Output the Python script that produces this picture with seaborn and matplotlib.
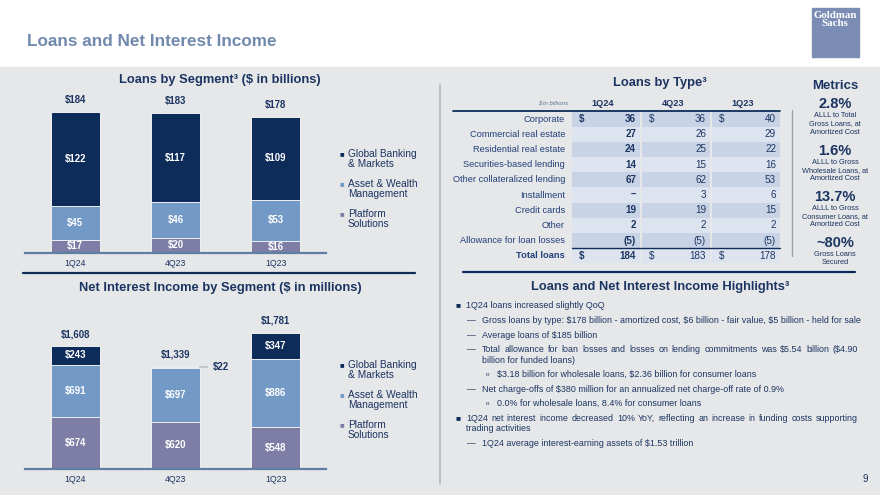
import pandas as pd
import matplotlib.pyplot as plt
import seaborn as sns
from matplotlib.patches import Rectangle

# ---- data ----
quarters = ["1Q24", "4Q23", "1Q23"]
segments = ["Global Banking\n& Markets", "Asset & Wealth\nManagement", "Platform\nSolutions"]
loans_gbm = [122, 117, 109]
loans_awm = [45, 46, 53]
loans_ps = [17, 20, 16]
nii_gbm = [243, 22, 347]
nii_awm = [691, 697, 886]
nii_ps = [674, 620, 548]

type_rows = ["Corporate", "Commercial real estate", "Residential real estate",
             "Securities-based lending", "Other collateralized lending", "Installment",
             "Credit cards", "Other", "Allowance for loan losses", "Total loans"]
type_1q24 = [36, 27, 24, 14, 67, None, 19, 2, -5, 184]
type_4q23 = [36, 26, 25, 15, 62, 3, 19, 2, -5, 183]
type_1q23 = [40, 29, 22, 16, 53, 6, 15, 2, -5, 178]

metric_values = ["2.8%", "1.6%", "13.7%", "~80%"]
metric_labels = ["ALLL to Total\nGross Loans, at\nAmortized Cost",
                 "ALLL to Gross\nWholesale Loans, at\nAmortized Cost",
                 "ALLL to Gross\nConsumer Loans, at\nAmortized Cost",
                 "Gross Loans\nSecured"]

highlights = [
    (0, "1Q24 loans increased slightly QoQ"),
    (1, "Gross loans by type: $178 billion - amortized cost, $6 billion - fair value, $5 billion - held for sale"),
    (1, "Average loans of $185 billion"),
    (1, "Total allowance for loan losses and losses on lending commitments was $5.54 billion ($4.90\nbillion for funded loans)"),
    (2, "$3.18 billion for wholesale loans, $2.36 billion for consumer loans"),
    (1, "Net charge-offs of $380 million for an annualized net charge-off rate of 0.9%"),
    (2, "0.0% for wholesale loans, 8.4% for consumer loans"),
    (0, "1Q24 net interest income decreased 10% YoY, reflecting an increase in funding costs supporting\ntrading activities"),
    (1, "1Q24 average interest-earning assets of $1.53 trillion"),
]

# ---- style ----
NAVY = "#0d2c5a"
LBLUE = "#7399c6"
PURPLE = "#7e7da6"
TXT = "#1b3461"
BG = "#e6e7e9"
seg_colors = [NAVY, LBLUE, PURPLE]

sns.set_theme(style="white")
plt.rcParams["font.family"] = ["Liberation Sans", "DejaVu Sans"]
plt.rcParams["text.parse_math"] = False

W, H = 880, 495
fig = plt.figure(figsize=(8.8, 4.95), dpi=100)
fig.patch.set_facecolor("white")
renderer = fig.canvas.get_renderer()

bg = fig.add_axes([0, 0, 1, 1])
bg.set_xlim(0, W)
bg.set_ylim(H, 0)
bg.axis("off")
bg.add_patch(Rectangle((0, 67), W, H - 67, color=BG, zorder=0))
bg.plot([440, 440], [85, 484], color="#b4b7bb", lw=1.2)
bg.plot([23, 415], [273, 273], color=NAVY, lw=1.6)
bg.plot([463, 855], [272, 272], color=NAVY, lw=1.6)

bg.text(27, 42, "Loans and Net Interest Income", fontsize=12.3, fontweight="bold",
        color="#7189ad", va="center")
bg.add_patch(Rectangle((812, 8), 47, 49, color="#7b8db5"))
bg.text(835, 11, "Goldman\nSachs", fontsize=7.8, color="white", fontweight="bold",
        family="Liberation Serif", va="top", ha="center", linespacing=0.85)


def pix_axes(x0, y_base, w, h):
    return fig.add_axes([x0 / W, 1 - y_base / H, w / W, h / H])


def stacked(ax, gbm, awm, ps, ymax, fmt, min_inside):
    df = pd.DataFrame({"q": quarters, "gbm": gbm, "awm": awm, "ps": ps})
    df["c1"] = df["ps"]
    df["c2"] = df["ps"] + df["awm"]
    df["c3"] = df["c2"] + df["gbm"]
    for col, c in zip(["c3", "c2", "c1"], seg_colors):
        sns.barplot(data=df, x="q", y=col, order=quarters, color=c, saturation=1,
                    width=0.49, edgecolor="#eef0f3", linewidth=0.7, ax=ax)
    ax.set_ylim(0, ymax)
    ax.set_xlim(-0.5, 2.5)
    ax.set_facecolor("none")
    for s in ["top", "left", "right"]:
        ax.spines[s].set_visible(False)
    ax.spines["bottom"].set_color("#5f7ea3")
    ax.spines["bottom"].set_linewidth(1.6)
    ax.set_xlabel("")
    ax.set_ylabel("")
    ax.set_yticks([])
    ax.tick_params(axis="x", length=0, labelsize=6.3, labelcolor=TXT, pad=4)
    for i, r in df.iterrows():
        ax.annotate(fmt.format(r["c3"]), (i, r["c3"]), xytext=(0, 5),
                    textcoords="offset points", ha="center", va="bottom",
                    fontsize=6.9, fontweight="bold", color=TXT)
        for lo, val in [(0, r["ps"]), (r["c1"], r["awm"]), (r["c2"], r["gbm"])]:
            if val >= min_inside:
                ax.text(i, lo + val / 2, fmt.format(val), ha="center", va="center",
                        fontsize=6.9, fontweight="bold", color="white")
    return df


# Loans by segment
ax1 = pix_axes(25, 253, 301, 160)
stacked(ax1, loans_gbm, loans_awm, loans_ps, 160 / 0.766, "${:,.0f}", 5)
bg.text(220, 80, "Loans by Segment³ ($ in billions)", fontsize=9.3, fontweight="bold",
        color=TXT, ha="center", va="center")

# NII by segment
ax2 = pix_axes(25, 469, 301, 160)
d2 = stacked(ax2, nii_gbm, nii_awm, nii_ps, 160 / 0.0765, "${:,.0f}", 100)
small = d2.index[d2["gbm"] < 100][0]
ymid = d2.loc[small, "c2"] + d2.loc[small, "gbm"] / 2
ax2.plot([small + 0.245, small + 0.31], [ymid, ymid], color="#c4c6ca", lw=1.5)
ax2.text(small + 0.37, ymid, "${:,.0f}".format(d2.loc[small, "gbm"]), fontsize=6.9,
         fontweight="bold", color=TXT, va="center")
bg.text(220, 288, "Net Interest Income by Segment ($ in millions)", fontsize=9.3,
        fontweight="bold", color=TXT, ha="center", va="center")

# legends
for base in (154, 365):
    for k, (lab, c) in enumerate(zip(segments, seg_colors)):
        y = base + k * 30
        bg.text(340, y + 0.5, "■", fontsize=5.5, color=c, va="center")
        bg.text(348, y - 5, lab, fontsize=7.3, color=TXT, va="top", linespacing=1.05)

# ---- Loans by type table ----
bg.text(660, 83, "Loans by Type³", fontsize=9.3, fontweight="bold", color=TXT,
        ha="center", va="center")
bg.text(568, 103, "$ in billions", fontsize=4.3, style="italic", color="#5c6f8f",
        ha="right", va="center")
col_l = [572, 642, 712]
col_r = [640, 710, 780]
for j, q in enumerate(quarters):
    bg.text((col_l[j] + col_r[j]) / 2 - 3, 103, q, fontsize=6.6, fontweight="bold",
            color=TXT, ha="center", va="center")
bg.plot([453, 780], [111, 111], color=NAVY, lw=1.3)

y0, dy = 119, 15.2
cols = [type_1q24, type_4q23, type_1q23]
for i, lab in enumerate(type_rows):
    y = y0 + i * dy
    last = i == len(type_rows) - 1
    shade = "#c8d4e5" if (i % 2 == 0 and not last) else "#dde4ef"
    bg.text(565, y, lab, fontsize=6.7, color="#22407a", ha="right", va="center",
            fontweight="bold" if last else "normal")
    for j in range(3):
        bg.add_patch(Rectangle((col_l[j], y - dy / 2), col_r[j] - col_l[j], dy,
                               color=shade, zorder=1, lw=0))
        v = cols[j][i]
        if v is None:
            s = "–"
        elif v < 0:
            s = "({})".format(-v)
        else:
            s = "{}".format(v)
        bold = "bold" if (j == 0) else "normal"
        bg.text(col_r[j] - 4, y, s, fontsize=7.1, color=TXT, ha="right", va="center",
                fontweight=bold, zorder=3)
        if i == 0 or last:
            bg.text(col_l[j] + 7, y, "$", fontsize=7.1, color=TXT, va="center",
                    fontweight=bold, zorder=3)
bg.plot([572, 780], [y0 + 8.5 * dy, y0 + 8.5 * dy], color=NAVY, lw=1, zorder=4)

# ---- metrics ----
bg.text(835, 86, "Metrics", fontsize=9.5, fontweight="bold", color=TXT,
        ha="center", va="center")
bg.plot([792, 792], [110, 256], color="#9ea3aa", lw=1)
for k, (v, lab) in enumerate(zip(metric_values, metric_labels)):
    yv = [104, 151, 197, 243][k]
    bg.text(835, yv, v, fontsize=10.5, fontweight="bold", color=TXT,
            ha="center", va="center")
    bg.text(835, yv + 8, lab, fontsize=5.3, color=TXT, ha="center", va="top",
            linespacing=1.25)

# ---- highlights ----
RIGHT = 858


def line_text(x, y, s, justify):
    if not justify:
        bg.text(x, y, s, fontsize=6.4, color=TXT, va="center")
        return
    words = s.split(" ")
    objs = [bg.text(0, y, w, fontsize=6.4, color=TXT, va="center") for w in words]
    widths = [o.get_window_extent(renderer).width for o in objs]
    gap = (RIGHT - x - sum(widths)) / (len(words) - 1)
    pos = x
    for o, w in zip(objs, widths):
        o.set_x(pos)
        pos += w + gap


bg.text(660, 287, "Loans and Net Interest Income Highlights³", fontsize=9.3,
        fontweight="bold", color=TXT, ha="center", va="center")
y = 306
for lvl, txt in highlights:
    if lvl == 0:
        bg.text(455, y, "■", fontsize=6, color=NAVY, va="center")
        tx = 466
    elif lvl == 1:
        bg.text(467, y, "—", fontsize=6.3, color=TXT, va="center")
        tx = 482
    else:
        bg.text(486, y, "o", fontsize=4.5, color=TXT, va="center")
        tx = 497
    parts = txt.split("\n")
    for n, part in enumerate(parts):
        line_text(tx if (n == 0 or lvl != 0) else 466, y, part, n < len(parts) - 1)
        if n < len(parts) - 1:
            y += 10.2
    y += 14.6

bg.text(868, 479, "9", fontsize=7, color=TXT, ha="right", va="center")

fig.savefig("out.png", dpi=100, facecolor=fig.get_facecolor())
